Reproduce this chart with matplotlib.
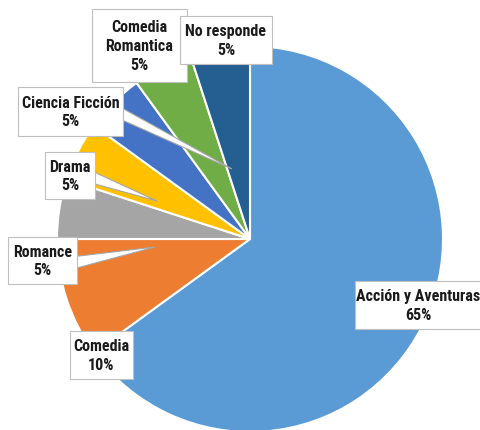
import matplotlib.pyplot as plt
import matplotlib.patches as patches

# Preferencias de género de cine
generos = ['Acción y Aventuras', 'Comedia', 'Romance', 'Drama',
           'Ciencia Ficción', 'Comedia\nRomantica', 'No responde']
porcentajes = [65, 10, 5, 5, 5, 5, 5]
colores = ['#5B9BD5', '#ED7D31', '#A5A5A5', '#FFC000',
           '#4472C4', '#70AD47', '#255E91']

W, H = 481, 431

# Cajas de etiqueta en píxeles (x0, y0, x1, y1) y punta del puntero (o None)
cajas = [(355, 282, 484, 330), (70, 332, 133, 380), (8, 238, 77, 285),
         (45, 153, 95, 200), (18, 88, 123, 137), (92, 10, 187, 83),
         (180, 17, 272, 65)]
puntas = [None, None, (155, 248), (157, 202), (232, 170), None, None]

FUENTE = ['Roboto Condensed', 'Liberation Sans Narrow', 'Roboto']

fig = plt.figure(figsize=(W / 100, H / 100), dpi=100, facecolor='white')
ax = fig.add_axes([0, 0, 1, 1])

def py(y):
    return H - y

ax.pie(porcentajes, colors=colores, center=(250, py(240)), radius=193,
       startangle=90, counterclock=False,
       wedgeprops=dict(edgecolor='white', linewidth=1.5))

# pie() cambia los límites, se fijan después
ax.set_xlim(0, W)
ax.set_ylim(0, H)
ax.set_aspect('equal')
ax.axis('off')

for nombre, pct, caja, punta in zip(generos, porcentajes, cajas, puntas):
    x0, y0, x1, y1 = caja
    if punta is not None:
        ym = (y0 + y1) / 2
        tri = patches.Polygon([(x1 - 2, py(ym - 4)), (x1 - 2, py(ym + 8)),
                               (punta[0], py(punta[1]))],
                              closed=True, facecolor='white', edgecolor='#A6A6A6',
                              linewidth=0.8, zorder=4)
        ax.add_patch(tri)
    ax.add_patch(patches.Rectangle((x0, py(y1)), x1 - x0, y1 - y0,
                                   facecolor='white', edgecolor='#BFBFBF',
                                   linewidth=0.8, zorder=5))
    xc = min((x0 + x1) / 2, W - 63)
    ax.text(xc, py((y0 + y1) / 2), f"{nombre}\n{pct}%",
            ha='center', va='center', fontsize=11.5, fontweight='bold',
            family=FUENTE, color='#1A1A1A', linespacing=1.3, zorder=6)

fig.savefig('out.png', dpi=100)
